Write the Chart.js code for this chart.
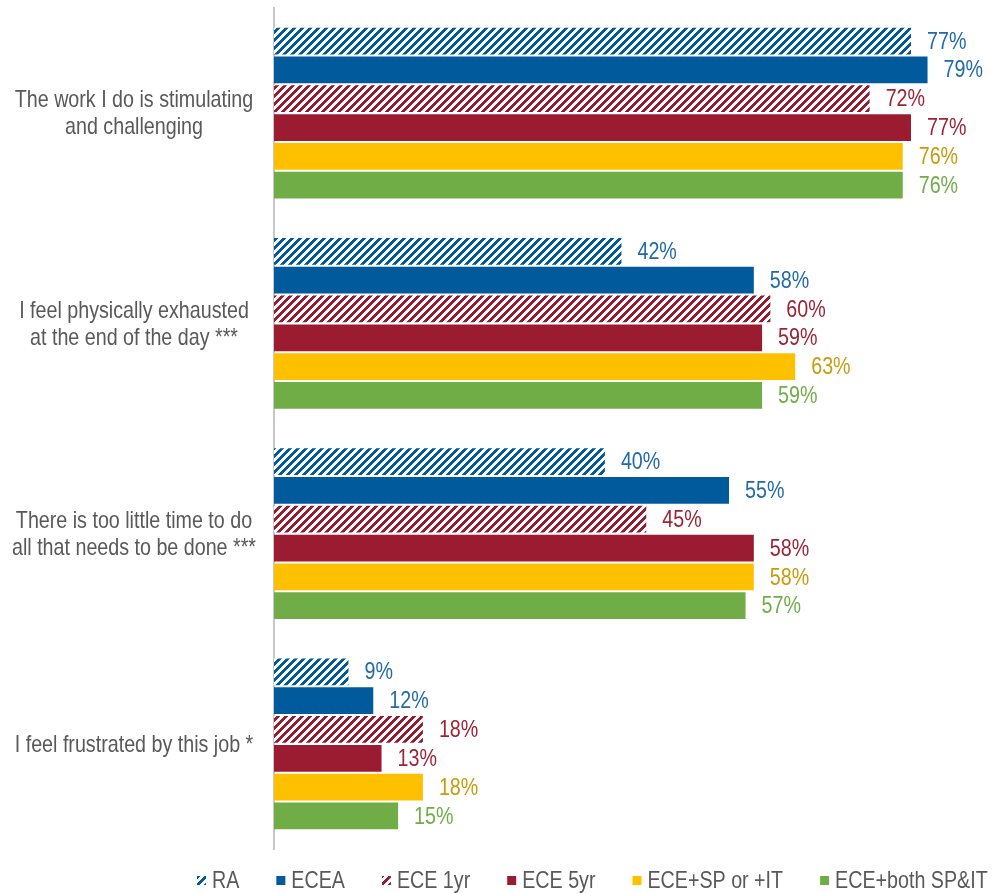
<!DOCTYPE html>
<html>
<head>
<meta charset="utf-8">
<script src="https://cdn.jsdelivr.net/npm/chart.js@4.4.1/dist/chart.umd.min.js"></script>
<style>
  html, body { margin: 0; padding: 0; background: #fff; }
  #wrap { width: 1006px; height: 893px; }
</style>
</head>
<body>
<div id="wrap"><canvas id="chart"></canvas></div>
<script>
const categories = [
  ["The work I do is stimulating", "and challenging"],
  ["I feel physically exhausted", "at the end of the day ***"],
  ["There is too little time to do", "all that needs to be done ***"],
  ["I feel frustrated by this job *"]
];

const seriesNames = ["RA", "ECEA", "ECE 1yr", "ECE 5yr", "ECE+SP or +IT", "ECE+both SP&IT"];

const ra = [77, 42, 40, 9];
const ecea = [79, 58, 55, 12];
const ece1yr = [72, 60, 45, 18];
const ece5yr = [77, 59, 58, 13];
const eceSpOrIt = [76, 63, 58, 18];
const eceBoth = [76, 59, 57, 15];

const FONT = "'Liberation Sans', Arial, sans-serif";
const NARROW = 0.82; // squeeze text horizontally, no narrow face installed
const GREY = '#595959';

const BLUE = '#005a9c';
const RED = '#9b1c31';
const YELLOW = '#ffc000';
const GREEN = '#70ad47';

// wide upward diagonal fill, like the office "/" hatch
function hatch(color) {
  const c = document.createElement('canvas');
  c.width = 8;
  c.height = 8;
  const g = c.getContext('2d');
  g.fillStyle = '#fff';
  g.fillRect(0, 0, 8, 8);
  g.fillStyle = color;
  for (let y = 0; y < 8; y++) {
    for (let x = 0; x < 8; x++) {
      if ((x + y) % 8 < 4) g.fillRect(x, y, 1, 1);
    }
  }
  return g.createPattern(c, 'repeat');
}

function narrowText(ctx, text, x, y, align) {
  ctx.save();
  ctx.translate(x, y);
  ctx.scale(NARROW, 1);
  ctx.textAlign = align;
  ctx.fillText(text, 0, 0);
  ctx.restore();
}

function narrowWidth(ctx, text) {
  return ctx.measureText(text).width * NARROW;
}

const datasets = [
  { label: seriesNames[0], data: ra, backgroundColor: hatch(BLUE), labelColor: '#1f6aa8' },
  { label: seriesNames[1], data: ecea, backgroundColor: BLUE, labelColor: '#1f6aa8' },
  { label: seriesNames[2], data: ece1yr, backgroundColor: hatch(RED), labelColor: '#9c2436' },
  { label: seriesNames[3], data: ece5yr, backgroundColor: RED, labelColor: '#9c2436' },
  { label: seriesNames[4], data: eceSpOrIt, backgroundColor: YELLOW, labelColor: '#c89b0c' },
  { label: seriesNames[5], data: eceBoth, backgroundColor: GREEN, labelColor: '#70ad47' }
];

// percentage labels just past the end of each bar
const valueLabels = {
  id: 'valueLabels',
  afterDatasetsDraw(chart) {
    const ctx = chart.ctx;
    ctx.save();
    ctx.font = '24px ' + FONT;
    ctx.textBaseline = 'middle';
    chart.data.datasets.forEach((ds, i) => {
      chart.getDatasetMeta(i).data.forEach((bar, j) => {
        ctx.fillStyle = ds.labelColor;
        narrowText(ctx, ds.data[j] + '%', bar.x + 16, bar.y + 1, 'left');
      });
    });
    ctx.restore();
  }
};

// category names, centred left of the axis
const categoryLabels = {
  id: 'categoryLabels',
  afterDraw(chart) {
    const ctx = chart.ctx;
    const yScale = chart.scales.y;
    ctx.save();
    ctx.font = '24px ' + FONT;
    ctx.fillStyle = GREY;
    ctx.textBaseline = 'middle';
    const lineH = 27;
    chart.data.labels.forEach((lines, i) => {
      const cy = yScale.getPixelForValue(i);
      const top = cy - (lines.length - 1) * lineH / 2;
      lines.forEach((line, k) => {
        narrowText(ctx, line, 134, top + k * lineH + 1, 'center');
      });
    });
    ctx.restore();
  }
};

// legend row along the bottom edge
const bottomLegend = {
  id: 'bottomLegend',
  afterDraw(chart) {
    const ctx = chart.ctx;
    ctx.save();
    ctx.font = '24px ' + FONT;
    ctx.textBaseline = 'middle';
    const y = 880;
    let x = 197;
    chart.data.datasets.forEach(ds => {
      ctx.fillStyle = ds.backgroundColor;
      ctx.fillRect(x, y - 4, 9, 9);
      ctx.fillStyle = GREY;
      narrowText(ctx, ds.label, x + 15, y + 1, 'left');
      x += 15 + narrowWidth(ctx, ds.label) + 37;
    });
    ctx.restore();
  }
};

new Chart(document.getElementById('chart'), {
  type: 'bar',
  data: {
    labels: categories,
    datasets: datasets
  },
  plugins: [valueLabels, categoryLabels, bottomLegend],
  options: {
    indexAxis: 'y',
    responsive: true,
    maintainAspectRatio: false,
    animation: false,
    categoryPercentage: 0.823,
    barPercentage: 0.927,
    layout: {
      padding: { top: 8, bottom: 44, right: 4, left: 0 }
    },
    plugins: {
      legend: { display: false },
      tooltip: { enabled: false }
    },
    scales: {
      x: {
        display: false,
        min: 0,
        max: 88
      },
      y: {
        grid: { display: false, drawTicks: false },
        border: { display: true, color: '#c8c8c8', width: 2 },
        ticks: { display: false },
        afterFit(scale) { scale.width = 274; }
      }
    }
  }
});
</script>
</body>
</html>
